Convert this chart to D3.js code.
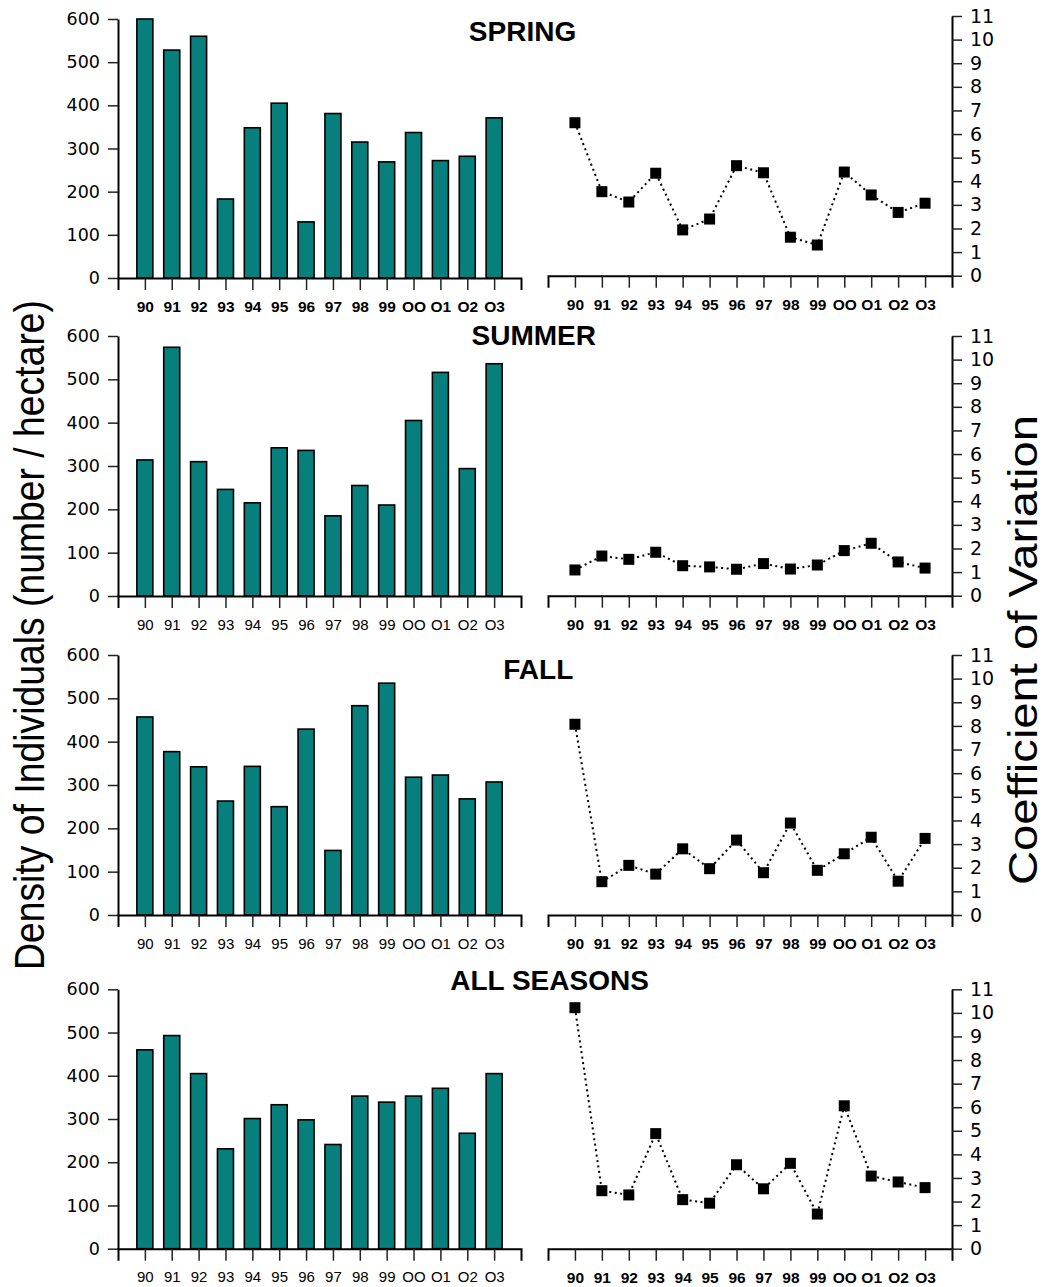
<!DOCTYPE html>
<html>
<head>
<meta charset="utf-8">
<script src="https://cdn.jsdelivr.net/npm/d3@7"></script>
<style>
  html, body { margin: 0; padding: 0; background: #fff; }
  svg { display: block; }
</style>
</head>
<body>
<svg id="chart" width="1046" height="1287"></svg>
<script>
// Survey years (2000-2003 written with the letter O, as on the original labels)
const years = ["90", "91", "92", "93", "94", "95", "96", "97", "98", "99", "OO", "O1", "O2", "O3"];

// Density of individuals (number / hectare) per season
const springDensity = [600, 528, 560, 183, 348, 405, 130, 381, 315, 269, 337, 272, 282, 371];
const summerDensity = [314, 574, 310, 246, 215, 342, 336, 185, 255, 210, 405, 516, 294, 536];
const fallDensity   = [457, 377, 342, 263, 343, 250, 429, 149, 483, 535, 318, 323, 268, 307];
const allDensity    = [460, 493, 405, 231, 301, 333, 298, 241, 353, 339, 353, 371, 267, 405];

// Coefficient of variation per season
const springCV = [6.48, 3.56, 3.12, 4.34, 1.94, 2.40, 4.66, 4.36, 1.63, 1.30, 4.39, 3.42, 2.68, 3.07];
const summerCV = [1.09, 1.68, 1.54, 1.84, 1.27, 1.22, 1.12, 1.36, 1.13, 1.30, 1.91, 2.22, 1.43, 1.17];
const fallCV   = [8.07, 1.41, 2.10, 1.73, 2.80, 1.96, 3.17, 1.79, 3.89, 1.89, 2.59, 3.29, 1.43, 3.24];
const allCV    = [10.22, 2.46, 2.28, 4.88, 2.08, 1.93, 3.56, 2.54, 3.62, 1.47, 6.06, 3.08, 2.83, 2.59];

const seasonTitles = ["SPRING", "SUMMER", "FALL", "ALL SEASONS"];
const densityTicks = [0, 100, 200, 300, 400, 500, 600];
const cvTicks = [0, 1, 2, 3, 4, 5, 6, 7, 8, 9, 10, 11];

const densitySeries = [springDensity, summerDensity, fallDensity, allDensity];
const cvSeries = [springCV, summerCV, fallCV, allCV];

// Vertical placement of each row: [left top, left bottom, right top, right bottom]
const rows = [
  { lt: 19,    lb: 278,    rt: 16,    rb: 275.7,  titleX: 522.5, titleY: 41,  boldYears: true },
  { lt: 336,   lb: 596,    rt: 336,   rb: 595.7,  titleX: 533.8, titleY: 344.5, boldYears: false },
  { lt: 655,   lb: 915,    rt: 655,   rb: 915,    titleX: 538.3, titleY: 679, boldYears: false },
  { lt: 989.3, lb: 1248.7, rt: 989.3, rb: 1248.7, titleX: 549.5, titleY: 990, boldYears: false }
];

const LEFT_X0 = 118, LEFT_X1 = 521;
const RIGHT_X0 = 548, RIGHT_X1 = 952;
const BAR_W = 16;
const TEAL = "#077f7c";

const svg = d3.select("#chart");

function styleAxis(g) {
  g.selectAll(".domain").attr("stroke", "#000").attr("stroke-width", 2);
  g.selectAll(".tick line").attr("stroke", "#222").attr("stroke-width", 1.5);
}

rows.forEach((row, i) => {
  // ---- bar chart (density) ----
  const xL = d3.scalePoint().domain(years).range([LEFT_X0, LEFT_X1]).padding(1);
  const yL = d3.scaleLinear().domain([0, 600]).range([row.lb, row.lt]);

  const gL = svg.append("g");
  gL.selectAll("rect.bar")
    .data(densitySeries[i])
    .join("rect")
    .attr("class", "bar")
    .attr("x", (d, j) => xL(years[j]) - BAR_W / 2)
    .attr("y", d => yL(d))
    .attr("width", BAR_W)
    .attr("height", d => yL(0) - yL(d))
    .attr("fill", TEAL)
    .attr("stroke", "#000")
    .attr("stroke-width", 1.6);

  const axL = gL.append("g")
    .attr("transform", `translate(${LEFT_X0},0)`)
    .call(d3.axisLeft(yL).tickValues(densityTicks).tickSize(10).tickSizeOuter(0).tickPadding(8));
  styleAxis(axL);
  axL.selectAll("text")
    .attr("font-family", "'DejaVu Sans', sans-serif")
    .attr("font-size", 17.5)
    .attr("fill", "#000");

  const axLB = gL.append("g")
    .attr("transform", `translate(0,${row.lb})`)
    .call(d3.axisBottom(xL).tickSize(12).tickSizeOuter(12).tickPadding(11));
  styleAxis(axLB);
  axLB.selectAll("text")
    .attr("font-family", "'Liberation Sans', Arial, sans-serif")
    .attr("font-size", row.boldYears ? 15.5 : 15)
    .attr("font-weight", row.boldYears ? "bold" : "normal")
    .attr("fill", "#000");

  // ---- line chart (coefficient of variation) ----
  const xR = d3.scalePoint().domain(years).range([RIGHT_X0, RIGHT_X1]).padding(1);
  const yR = d3.scaleLinear().domain([0, 11]).range([row.rb, row.rt]);

  const gR = svg.append("g");
  const axRB = gR.append("g")
    .attr("transform", `translate(0,${row.rb})`)
    .call(d3.axisBottom(xR).tickSize(12).tickSizeOuter(12).tickPadding(11));
  styleAxis(axRB);
  axRB.selectAll("text")
    .attr("font-family", "'Liberation Sans', Arial, sans-serif")
    .attr("font-size", 15.5)
    .attr("font-weight", "bold")
    .attr("fill", "#000");

  const axR = gR.append("g")
    .attr("transform", `translate(${RIGHT_X1},0)`)
    .call(d3.axisRight(yR).tickValues(cvTicks).tickSize(10).tickSizeOuter(0).tickPadding(8));
  styleAxis(axR);
  axR.selectAll("text")
    .attr("font-family", "'DejaVu Sans', sans-serif")
    .attr("font-size", 19)
    .attr("fill", "#000");

  const line = d3.line()
    .x((d, j) => xR(years[j]))
    .y(d => yR(d));

  gR.append("path")
    .datum(cvSeries[i])
    .attr("d", line)
    .attr("fill", "none")
    .attr("stroke", "#000")
    .attr("stroke-width", 2)
    .attr("stroke-dasharray", "2,3.5");

  const M = 11;
  gR.selectAll("rect.marker")
    .data(cvSeries[i])
    .join("rect")
    .attr("class", "marker")
    .attr("x", (d, j) => xR(years[j]) - M / 2)
    .attr("y", d => yR(d) - M / 2)
    .attr("width", M)
    .attr("height", M)
    .attr("fill", "#000");

  // ---- season title ----
  svg.append("text")
    .attr("x", row.titleX)
    .attr("y", row.titleY)
    .attr("text-anchor", "middle")
    .attr("font-family", "'Liberation Sans', Arial, sans-serif")
    .attr("font-weight", "bold")
    .attr("font-size", 28)
    .attr("fill", "#000")
    .text(seasonTitles[i]);
});

// Shared axis titles
svg.append("text")
  .attr("transform", "translate(44,635) rotate(-90)")
  .attr("text-anchor", "middle")
  .attr("font-family", "'Liberation Sans', Arial, sans-serif")
  .attr("font-size", 42)
  .attr("textLength", 670)
  .attr("lengthAdjust", "spacingAndGlyphs")
  .attr("fill", "#000")
  .text("Density of Individuals (number / hectare)");

svg.append("text")
  .attr("transform", "translate(1037,650) rotate(-90)")
  .attr("text-anchor", "middle")
  .attr("font-family", "'Liberation Sans', Arial, sans-serif")
  .attr("font-size", 40)
  .attr("textLength", 470)
  .attr("lengthAdjust", "spacingAndGlyphs")
  .attr("fill", "#000")
  .text("Coefficient of Variation");
</script>
</body>
</html>
